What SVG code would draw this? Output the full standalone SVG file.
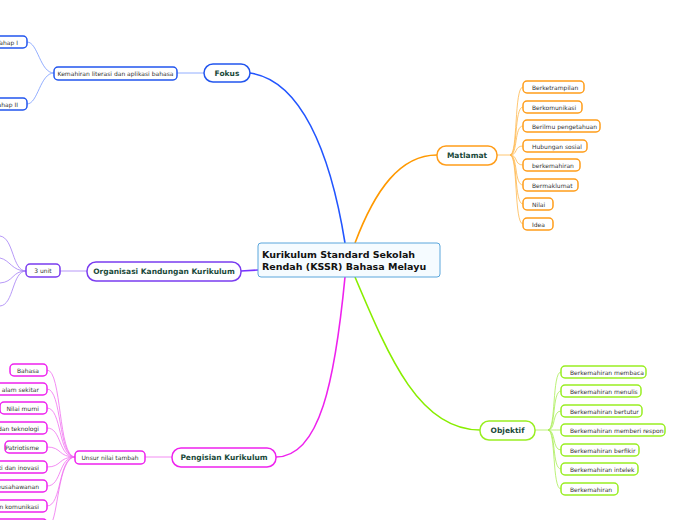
<svg xmlns="http://www.w3.org/2000/svg" width="697" height="520" viewBox="0 0 697 520">
<style>
text{font-family:"DejaVu Sans",Verdana,sans-serif;font-size:6px;fill:#333}
.m{font-size:7.5px;font-weight:bold;fill:#1a4a3a}
.c{font-size:9.5px;font-weight:bold;fill:#111}
rect{fill:#fff;stroke-width:1.5}
.o rect{stroke:#ff9d1a}.g rect{stroke:#99ee22}.b rect{stroke:#2255ee}.p rect{stroke:#7a3cf0}.k rect{stroke:#ee22ee}
path{fill:none}
.lo{stroke:#ffb84d;stroke-width:.8}.lg{stroke:#aaee55;stroke-width:.8}.lb{stroke:#7799ff;stroke-width:.8}.lp{stroke:#a57ff5;stroke-width:.8}.lk{stroke:#f070f0;stroke-width:.8}
</style>
<g id="connectors">
<path d="M345,243 C330,150 300,80 250,73" stroke="#2255ff" stroke-width="1.6"/>
<path d="M355,243 C375,190 400,155 437,155" stroke="#ff9900" stroke-width="1.6"/>
<path d="M258,270 L241,271" stroke="#7733ff" stroke-width="1.6"/>
<path d="M345,277 C335,380 320,457 276,457" stroke="#ee22ee" stroke-width="1.6"/>
<path d="M355,277 C390,360 420,430 480,430" stroke="#88ee00" stroke-width="1.6"/>
<path class="lb" d="M204,73 L177,73"/>
<path class="lb" d="M54,73 C40,73 38,42 27,42 M54,73 C40,73 38,104 27,104"/>
<path class="lp" d="M87,271 L60,271"/>
<path class="lp" d="M26,271 C12,271 14,238 0,236 M26,271 C12,271 14,282 0,283 M26,271 C12,271 14,305 0,306 M26,271 C12,271 10,260 0,258"/>
<path class="lk" d="M172,457 L145,457"/>
<path class="lk" d="M75,457 C58,457 62,370 47,370 M75,457 C58,457 62,389 47,389 M75,457 C58,457 62,408 47,408 M75,457 C58,457 62,428 47,428 M75,457 C58,457 62,447 47,447 M75,457 C58,457 62,467 47,467 M75,457 C58,457 62,486 47,486 M75,457 C58,457 62,506 47,506 M75,457 C58,457 58,520 50,525"/>
<path class="lo" d="M497,155 L510,155 M510,155 C518,155 514,87 523,87 M510,155 C518,155 514,107 523,107 M510,155 C518,155 514,126 523,126 M510,155 C518,155 514,146 523,146 M510,155 C518,155 514,165 523,165 M510,155 C518,155 514,185 523,185 M510,155 C518,155 514,204 523,204 M510,155 C518,155 514,224 523,224"/>
<path class="lg" d="M535,430 L548,430 M548,430 C556,430 552,372 561,372 M548,430 C556,430 552,391 561,391 M548,430 C556,430 552,411 561,411 M548,430 C556,430 552,430 561,430 M548,430 C556,430 552,450 561,450 M548,430 C556,430 552,469 561,469 M548,430 C556,430 552,489 561,489"/>
</g>
<g id="central"><rect x="258" y="243" width="182" height="34" rx="3" style="fill:#f5fbff;stroke:#5aa6dc;stroke-width:1"/>
<text class="c" x="262" y="258">Kurikulum Standard Sekolah</text><text class="c" x="262" y="270">Rendah (KSSR) Bahasa Melayu</text></g>
<g id="matlamat" class="o"><rect x="437" y="146" width="60" height="19" rx="9"/><text class="m" x="467" y="158" text-anchor="middle">Matlamat</text>
<rect x="523" y="81" width="61" height="12" rx="4"/><text x="532" y="89.5">Berketrampilan</text>
<rect x="523" y="101" width="59" height="12" rx="4"/><text x="532" y="109.5">Berkomunikasi</text>
<rect x="523" y="120" width="77" height="12" rx="4"/><text x="532" y="128.5">Berilmu pengetahuan</text>
<rect x="523" y="140" width="64" height="12" rx="4"/><text x="532" y="148.5">Hubungan sosial</text>
<rect x="523" y="159" width="57" height="12" rx="4"/><text x="532" y="167.5">berkemahiran</text>
<rect x="523" y="179" width="55" height="12" rx="4"/><text x="532" y="187.5">Bermaklumat</text>
<rect x="523" y="198" width="30" height="12" rx="4"/><text x="532" y="206.5">Nilai</text>
<rect x="523" y="218" width="30" height="12" rx="4"/><text x="532" y="226.5">Idea</text></g>
<g id="objektif" class="g"><rect x="480" y="421" width="55" height="19" rx="9"/><text class="m" x="507.5" y="433" text-anchor="middle">Objektif</text>
<rect x="561" y="366" width="85" height="12" rx="4"/><text x="570" y="374.5">Berkemahiran membaca</text>
<rect x="561" y="385" width="80" height="12" rx="4"/><text x="570" y="393.5">Berkemahiran menulis</text>
<rect x="561" y="405" width="81" height="12" rx="4"/><text x="570" y="413.5">Berkemahiran bertutur</text>
<rect x="561" y="424" width="104" height="12" rx="4"/><text x="570" y="432.5">Berkemahiran memberi respon</text>
<rect x="561" y="444" width="78" height="12" rx="4"/><text x="570" y="452.5">Berkemahiran berfikir</text>
<rect x="561" y="463" width="77" height="12" rx="4"/><text x="570" y="471.5">Berkemahiran intelek</text>
<rect x="561" y="483" width="57" height="12" rx="4"/><text x="570" y="491.5">Berkemahiran</text></g>
<g id="fokus" class="b"><rect x="204" y="64" width="46" height="18" rx="9"/><text class="m" x="227" y="76" text-anchor="middle">Fokus</text>
<rect x="54" y="67" width="123" height="13" rx="4"/><text x="115.5" y="75.5" text-anchor="middle">Kemahiran literasi dan aplikasi bahasa</text>
<rect x="-20" y="36" width="47" height="12" rx="4"/><text x="18" y="44.5" text-anchor="end">Tahap I</text>
<rect x="-20" y="98" width="47" height="12" rx="4"/><text x="18" y="106.5" text-anchor="end">Tahap II</text></g>
<g id="organisasi" class="p"><rect x="87" y="262" width="154" height="19" rx="9"/><text class="m" x="164" y="274" text-anchor="middle">Organisasi Kandungan Kurikulum</text>
<rect x="26" y="264" width="34" height="13" rx="4"/><text x="43" y="273" text-anchor="middle">3 unit</text></g>
<g id="pengisian" class="k"><rect x="172" y="448" width="104" height="19" rx="9"/><text class="m" x="224" y="460" text-anchor="middle">Pengisian Kurikulum</text>
<rect x="75" y="451" width="70" height="13" rx="4"/><text x="110" y="460" text-anchor="middle">Unsur nilai tambah</text>
<rect x="10" y="364" width="37" height="12" rx="4"/><text x="39" y="372.5" text-anchor="end">Bahasa</text>
<rect x="-60" y="383" width="107" height="12" rx="4"/><text x="39" y="391.5" text-anchor="end">Kelestarian alam sekitar</text>
<rect x="0" y="402" width="47" height="12" rx="4"/><text x="39" y="410.5" text-anchor="end">Nilai murni</text>
<rect x="-60" y="422" width="107" height="12" rx="4"/><text x="39" y="430.5" text-anchor="end">Sains dan teknologi</text>
<rect x="5" y="441" width="42" height="12" rx="4"/><text x="39" y="449.5" text-anchor="end">Patriotisme</text>
<rect x="-60" y="461" width="107" height="12" rx="4"/><text x="39" y="469.5" text-anchor="end">Kreativiti dan inovasi</text>
<rect x="-60" y="480" width="107" height="12" rx="4"/><text x="39" y="488.5" text-anchor="end">Keusahawanan</text>
<rect x="-90" y="500" width="137" height="12" rx="4"/><text x="39" y="508.5" text-anchor="end">Teknologi maklumat dan komunikasi</text>
<rect x="-60" y="519" width="107" height="12" rx="4"/></g>
</svg>
